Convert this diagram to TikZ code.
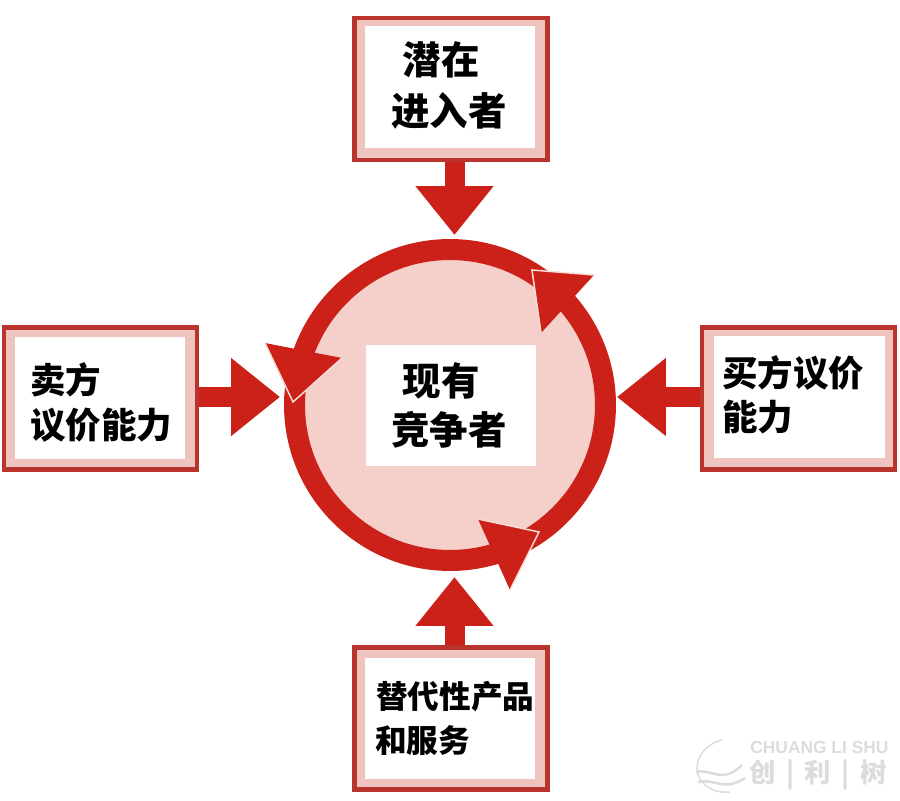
\documentclass[tikz,border=0pt]{standalone}
\usepackage{fontspec}
\setmainfont{Liberation Sans}
\newfontfamily\cjk{Noto Sans CJK SC}
\usetikzlibrary{arrows.meta,shapes,positioning}
\definecolor{ringred}{HTML}{CB2118}
\definecolor{framered}{HTML}{B9342C}
\definecolor{bandpink}{HTML}{EFC4BF}
\definecolor{discpink}{HTML}{F5CFCA}
\definecolor{edgepale}{HTML}{F8DCD6}
\definecolor{stampgrey}{HTML}{DCDCDC}

\begin{document}
\begin{tikzpicture}[x=0.02cm,y=-0.02cm]

					\tikzstyle{frame} = [
						rectangle,
						draw=framered,
						fill=bandpink,
						line width=0.09cm,
						minimum width=3.87cm,
						minimum height=2.85cm,
						inner sep=0pt
					]
					\tikzstyle{panel} = [
						rectangle,
						fill=white,
						minimum width=3.42cm,
						minimum height=2.44cm,
						inner sep=0pt
					]
					\tikzstyle{word} = [
						font=\cjk\bfseries\fontsize{21.9pt}{26pt}\selectfont,
						inner sep=0pt
					]
					\tikzstyle{smallword} = [
						font=\cjk\bfseries\fontsize{18pt}{22pt}\selectfont,
						inner sep=0pt
					]
					\tikzstyle{midword} = [
						font=\cjk\bfseries\fontsize{20.2pt}{24pt}\selectfont,
						inner sep=0pt
					]
					\tikzstyle{force} = [
						draw=ringred,
						line width=0.4cm,
						-{Triangle[length=0.98cm,width=1.5cm]}
					]
					\tikzstyle{head} = [fill=ringred]
					\tikzstyle{headedge} = [draw=edgepale, line width=0.03cm]
					\tikzstyle{stamp} = [text=stampgrey, inner sep=0pt]

					\useasboundingbox (0,0) rectangle (900,801);

					\node (rival) [circle, draw=ringred, fill=discpink, line width=0.42cm, minimum size=6.22cm, inner sep=0pt] at (450,405) {};
					\node (rivalpanel) [style=panel, minimum width=3.4cm, minimum height=2.42cm] at (451,405.5) {};

					\fill [style=head] (532,270) -- (594,275) -- (541,333) -- cycle;
					\draw [style=headedge] (541,333) -- (532,270) -- (594,275);
					\fill [style=head] (293,402) -- (265,343) -- (342,358) -- cycle;
					\draw [style=headedge] (265,343) -- (293,402) -- (342,358);
					\fill [style=head] (539,532) -- (478,519) -- (510,590) -- cycle;
					\draw [style=headedge] (478,519) -- (539,532) -- (510,590);

					\node (entrant) [style=frame] at (451,89) {};
					\node (seller) [style=frame] at (100.5,398.5) {};
					\node (buyer) [style=frame] at (798.5,398.5) {};
					\node (substitute) [style=frame] at (451,718.5) {};

					\node (entrantpanel) [style=panel] at (450,87) {};
					\node (sellerpanel) [style=panel] at (100,398) {};
					\node (buyerpanel) [style=panel] at (799.5,397) {};
					\node (substitutepanel) [style=panel] at (450,718.5) {};

					\coordinate (entranttip) at (454.5,235);
					\coordinate (sellertip) at (280,397);
					\coordinate (buyertip) at (617,397);
					\coordinate (substitutetip) at (454.5,577);

					\draw [style=force] (entranttip |- entrant.south) -- (entranttip);
					\draw [style=force] (seller.east |- sellertip) -- (sellertip);
					\draw [style=force] (buyer.west |- buyertip) -- (buyertip);
					\draw [style=force] (substitutetip |- substitute.north) -- (substitutetip);

					\node (entrant1) [style=word] at (441,60) {潜在};
					\node (entrant2) [style=word] at (449,111) {进入者};
					\node (rival1) [style=word] at (441,381) {现有};
					\node (rival2) [style=word] at (449,430) {竞争者};
					\node (seller1) [style=midword, anchor=west] at (30,380) {卖方};
					\node (seller2) [style=midword, anchor=west] at (30,425) {议价能力};
					\node (buyer1) [style=midword, anchor=west] at (722,373) {买方议价};
					\node (buyer2) [style=midword, anchor=west] at (722,417) {能力};
					\node (substitute1) [style=smallword, anchor=west] at (376,697) {替代性产品};
					\node (substitute2) [style=smallword, anchor=west] at (375,740) {和服务};

					\draw [draw=stampgrey, line width=0.03cm] (722,740) .. controls (700,745) and (688,770) .. (705,785) .. controls (712,791) and (722,793) .. (730,792);
					\draw [draw=stampgrey, line width=0.05cm] (696,772) .. controls (712,768) and (722,785) .. (742,765);
					\draw [draw=stampgrey, line width=0.05cm] (698,782) .. controls (714,778) and (724,792) .. (745,778);
					\node (stampname) [style=stamp, font=\bfseries\fontsize{9.9pt}{11pt}\selectfont, anchor=west] at (750,748) {CHUANG LI SHU};
					\node (stampword) [style=stamp, font=\cjk\bfseries\fontsize{15pt}{17pt}\selectfont] at (818,775) {创\hspace{0.4em}|\hspace{0.4em}利\hspace{0.4em}|\hspace{0.4em}树};

				\end{tikzpicture}
\end{document}
